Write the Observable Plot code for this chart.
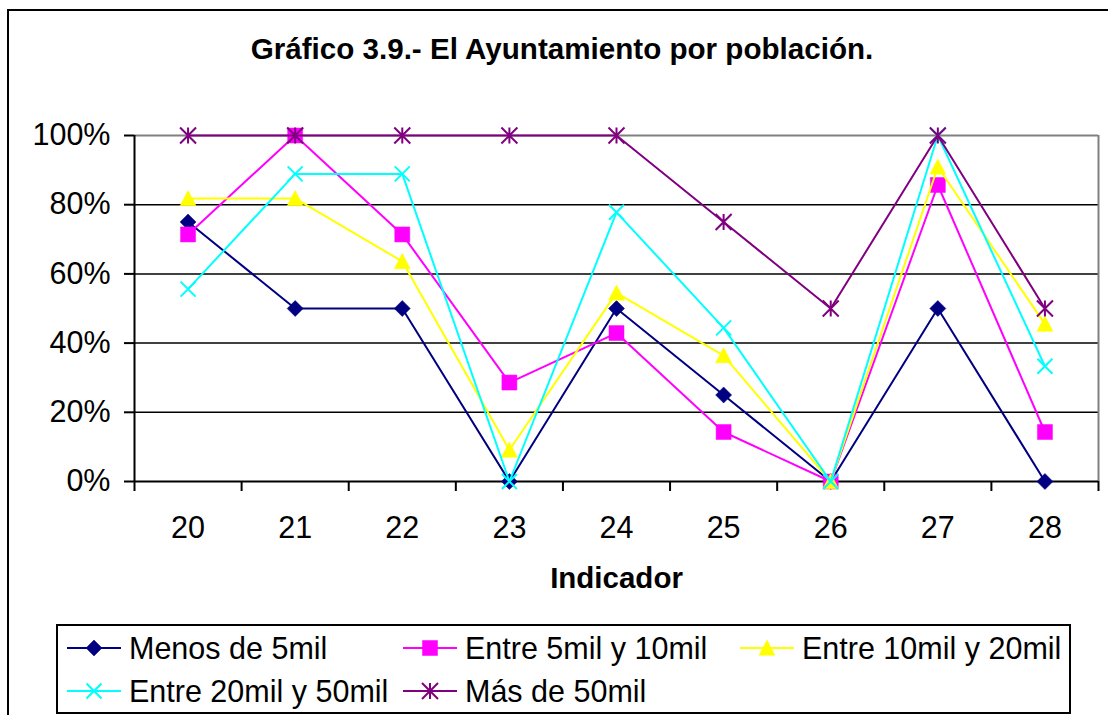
<!DOCTYPE html>
<html>
<head>
<meta charset="utf-8">
<script src="https://cdn.jsdelivr.net/npm/d3@7"></script>
<script src="https://cdn.jsdelivr.net/npm/@observablehq/plot@0.6"></script>
<style>
  html, body { margin: 0; padding: 0; background: #fff; }
  #wrap { position: relative; width: 1108px; height: 715px; overflow: hidden; font-family: "Liberation Sans", Arial, sans-serif; }
  #wrap > svg { position: absolute; left: 0; top: 0; }
  #title { position: absolute; left: 0; width: 1124px; top: 32px; text-align: center; font-weight: bold; font-size: 29.6px; white-space: nowrap; color: #000; z-index: 2; }
</style>
</head>
<body>
<div id="wrap">
  <div id="title">Gráfico 3.9.- El Ayuntamiento por población.</div>
</div>
<script>
// ---- data ----
const categories = [20, 21, 22, 23, 24, 25, 26, 27, 28];
const menos5mil      = [0.75, 0.50, 0.50, 0.00, 0.50, 0.25, 0.00, 0.50, 0.00];
const entre5y10mil   = [0.714, 1.00, 0.714, 0.286, 0.429, 0.143, 0.00, 0.857, 0.143];
const entre10y20mil  = [0.818, 0.818, 0.636, 0.091, 0.545, 0.364, 0.00, 0.909, 0.455];
const entre20y50mil  = [0.556, 0.889, 0.889, 0.00, 0.778, 0.444, 0.00, 1.00, 0.333];
const mas50mil       = [1.00, 1.00, 1.00, 1.00, 1.00, 0.75, 0.50, 1.00, 0.50];
const seriesNames  = ["Menos de 5mil", "Entre 5mil y 10mil", "Entre 10mil y 20mil", "Entre 20mil y 50mil", "Más de 50mil"];
const seriesValues = [menos5mil, entre5y10mil, entre10y20mil, entre20y50mil, mas50mil];
const seriesColors = ["#000080", "#FF00FF", "#FFFF00", "#00FFFF", "#800080"];
const yTicks = [0, 0.2, 0.4, 0.6, 0.8, 1];
const xLabel = "Indicador";

// ---- custom marker symbols ----
const R = s => Math.sqrt(s / Math.PI);
const symbols = [
  {draw(c, s) { const r = R(s); c.moveTo(0, -r); c.lineTo(r, 0); c.lineTo(0, r); c.lineTo(-r, 0); c.closePath(); }},
  {draw(c, s) { const r = R(s); c.moveTo(-r, -r); c.lineTo(r, -r); c.lineTo(r, r); c.lineTo(-r, r); c.closePath(); }},
  {draw(c, s) { const r = R(s); c.moveTo(0, -r); c.lineTo(r, r * 0.9); c.lineTo(-r, r * 0.9); c.closePath(); }},
  {draw(c, s) { const r = R(s); c.moveTo(-r, -r); c.lineTo(r, r); c.moveTo(-r, r); c.lineTo(r, -r); }},
  {draw(c, s) { const r = R(s); c.moveTo(-r, -r); c.lineTo(r, r); c.moveTo(-r, r); c.lineTo(r, -r); c.moveTo(0, -r); c.lineTo(0, r); }}
];
const symbolFilled = [true, true, true, false, false];
const symbolR = [8, 7.5, 8, 7.5, 8];

const boundaries = categories.map(c => c - 0.5).concat([categories[categories.length - 1] + 0.5]);
const xDomain = [boundaries[0], boundaries[boundaries.length - 1]];

const seriesMarks = [];
seriesValues.forEach((vals, i) => {
  const data = categories.map((c, j) => ({x: c, y: vals[j]}));
  seriesMarks.push(Plot.line(data, {x: "x", y: "y", stroke: seriesColors[i], strokeWidth: 2}));
  seriesMarks.push(Plot.dot(data, {
    x: "x", y: "y", symbol: symbols[i], r: symbolR[i],
    fill: symbolFilled[i] ? seriesColors[i] : "none",
    stroke: seriesColors[i], strokeWidth: symbolFilled[i] ? 0.5 : 2
  }));
});

const chart = Plot.plot({
  width: 1108, height: 715,
  marginLeft: 134, marginRight: 10, marginTop: 135, marginBottom: 234,
  x: {type: "linear", domain: xDomain},
  y: {domain: [0, 1]},
  style: {fontFamily: "'Liberation Sans', Arial, sans-serif", fontSize: "30.5px", background: "transparent", color: "#000", overflow: "visible"},
  marks: [
    Plot.ruleY(yTicks.filter(d => d > 0 && d < 1), {stroke: "#000", strokeWidth: 1.5}),
    Plot.ruleY([yTicks[yTicks.length - 1]], {stroke: "#808080", strokeWidth: 2}),
    Plot.ruleX([xDomain[1]], {stroke: "#808080", strokeWidth: 2}),
    Plot.ruleX([xDomain[0]], {stroke: "#000", strokeWidth: 2}),
    Plot.ruleY([0], {stroke: "#000", strokeWidth: 2}),
    Plot.axisY({ticks: yTicks, tickFormat: d => Math.round(d * 100) + "%", tickSize: 10, tickPadding: 14, label: null, fontSize: 30.5, strokeWidth: 2}),
    Plot.axisX({ticks: categories, tickFormat: d => String(d), tickSize: 0, tickPadding: 35, label: null, fontSize: 30.5}),
    Plot.axisX({ticks: boundaries, tickFormat: () => "", tickSize: 10, label: null, strokeWidth: 2}),
    Plot.text([xLabel], {frameAnchor: "bottom", lineAnchor: "middle", dy: 97, text: d => d, fontWeight: "bold", fontSize: 29.5, fill: "#000"}),
    ...seriesMarks
  ]
});
document.getElementById("wrap").appendChild(chart);

// ---- overlay: outer frame and legend ----
const ov = d3.select("#wrap").append("svg")
  .attr("width", 1108).attr("height", 715)
  .style("font-family", "'Liberation Sans', Arial, sans-serif");
ov.append("rect").attr("x", 8).attr("y", 10).attr("width", 1300).attr("height", 1000)
  .attr("fill", "none").attr("stroke", "#000").attr("stroke-width", 2);
ov.append("rect").attr("x", 57).attr("y", 625).attr("width", 1013).attr("height", 88)
  .attr("fill", "none").attr("stroke", "#000").attr("stroke-width", 2);

const colX = [67, 403, 740];
const rowY = [648, 691];
seriesNames.forEach((name, i) => {
  const col = i % 3, row = Math.floor(i / 3);
  const x0 = colX[col], y0 = rowY[row];
  const g = ov.append("g");
  g.append("line").attr("x1", x0).attr("x2", x0 + 54).attr("y1", y0).attr("y2", y0)
    .attr("stroke", seriesColors[i]).attr("stroke-width", 2);
  g.append("path")
    .attr("transform", `translate(${x0 + 27},${y0})`)
    .attr("d", d3.symbol().type(symbols[i]).size(Math.PI * symbolR[i] * symbolR[i])())
    .attr("fill", symbolFilled[i] ? seriesColors[i] : "none")
    .attr("stroke", seriesColors[i]).attr("stroke-width", symbolFilled[i] ? 0.5 : 2);
  g.append("text").attr("x", x0 + 62).attr("y", y0).attr("dy", "0.35em")
    .attr("font-size", 30.5).attr("fill", "#000").text(name);
});
</script>
</body>
</html>
